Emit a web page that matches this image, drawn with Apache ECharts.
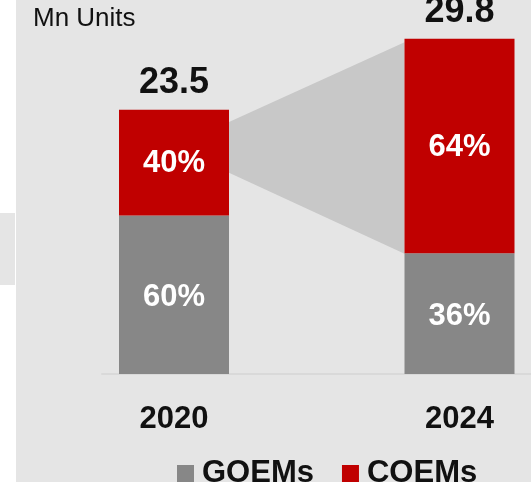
<!DOCTYPE html>
<html>
<head>
<meta charset="utf-8">
<script src="https://cdn.jsdelivr.net/npm/echarts@6/dist/echarts.min.js"></script>
<style>
  html, body { margin: 0; padding: 0; background: #ffffff; }
  #chart { width: 531px; height: 482px; }
</style>
</head>
<body>
<div id="chart"></div>
<script>
// data
const years = ["2020", "2024"];
const totals = [23.5, 29.8];          // Mn units
const goemShare = [60, 36];           // %
const coemShare = [40, 64];           // %
// gray "zoom" band between the two red segments, in Mn units [bottom, top]
const bridgeLeft = [17.9, 22.4];
const bridgeRight = [10.7, 29.5];

const BAR_W = 110;
const FONT = "Liberation Sans, Arial, sans-serif";

const goemData = totals.map((t, i) => +(t * goemShare[i] / 100).toFixed(3));
const coemData = totals.map((t, i) => +(t * coemShare[i] / 100).toFixed(3));

const chart = echarts.init(document.getElementById("chart"));

const option = {
  backgroundColor: "#ffffff",
  animation: false,
  textStyle: { fontFamily: FONT },
  graphic: [
    { type: "rect", z: -10, shape: { x: 16, y: 0, width: 515, height: 482 }, style: { fill: "#e5e5e5" } },
    { type: "rect", z: -10, shape: { x: 0, y: 213, width: 15, height: 72 }, style: { fill: "#e5e5e5" } },
    {
      type: "text", left: 33, top: 6,
      style: { text: "Mn Units", font: "26px " + FONT, fill: "#111111" }
    }
  ],
  legend: {
    top: 458,
    left: 177,
    padding: 0,
    itemWidth: 17,
    itemHeight: 17,
    itemGap: 28,
    icon: "rect",
    textStyle: { fontSize: 31, fontWeight: "bold", color: "#111111", padding: [0, 0, 0, 3] },
    data: ["GOEMs", "COEMs"]
  },
  // main grid: one category band per year (wider than the canvas on the right)
  // line grid: only carries the baseline, which starts left of the first bar
  grid: [
    { left: 31.25, right: -71.25, top: 36.5, bottom: 108, outerBoundsMode: "none" },
    { left: 102, right: 0, top: 36.5, bottom: 108, outerBoundsMode: "none" }
  ],
  xAxis: [
    {
      type: "category",
      gridIndex: 0,
      data: years,
      axisTick: { show: false },
      axisLine: { show: false },
      axisLabel: {
        margin: 30,
        fontSize: 31,
        fontWeight: "bold",
        color: "#111111"
      }
    },
    {
      type: "value",
      gridIndex: 1,
      min: 0,
      max: 1,
      splitLine: { show: false },
      axisTick: { show: false },
      axisLabel: { show: false },
      axisLine: { show: true, lineStyle: { color: "#d9d9d9", width: 2 } }
    }
  ],
  yAxis: [
    { type: "value", gridIndex: 0, min: 0, max: 30, show: false, splitLine: { show: false } },
    { type: "value", gridIndex: 1, min: 0, max: 30, show: false, splitLine: { show: false } }
  ],
  series: [
    {
      type: "custom",
      name: "bridge",
      silent: true,
      z: 1,
      data: [[0, 1]],
      renderItem: (params, api) => {
        const half = BAR_W / 2;
        const x0 = api.coord([0, 0])[0] + half;
        const x1 = api.coord([1, 0])[0] - half;
        const yl0 = api.coord([0, bridgeLeft[0]])[1];
        const yl1 = api.coord([0, bridgeLeft[1]])[1];
        const yr0 = api.coord([1, bridgeRight[0]])[1];
        const yr1 = api.coord([1, bridgeRight[1]])[1];
        return {
          type: "polygon",
          shape: { points: [[x0, yl1], [x1, yr1], [x1, yr0], [x0, yl0]] },
          style: { fill: "#c8c8c8" }
        };
      }
    },
    {
      name: "GOEMs",
      type: "bar",
      stack: "total",
      barWidth: BAR_W,
      z: 2,
      itemStyle: { color: "#878787" },
      label: {
        show: true,
        position: "inside",
        offset: [0, 3],
        fontSize: 31,
        fontWeight: "bold",
        color: "#ffffff",
        formatter: p => goemShare[p.dataIndex] + "%"
      },
      data: goemData
    },
    {
      name: "COEMs",
      type: "bar",
      stack: "total",
      barWidth: BAR_W,
      z: 2,
      itemStyle: { color: "#c00000" },
      label: {
        show: true,
        position: "inside",
        offset: [0, 1],
        fontSize: 31,
        fontWeight: "bold",
        color: "#ffffff",
        formatter: p => coemShare[p.dataIndex] + "%"
      },
      data: coemData
    },
    {
      name: "totals",
      type: "bar",
      stack: "total",
      barWidth: BAR_W,
      silent: true,
      itemStyle: { color: "transparent" },
      label: {
        show: true,
        position: "top",
        distance: 9,
        fontSize: 36,
        fontWeight: "bold",
        color: "#111111",
        formatter: p => totals[p.dataIndex].toFixed(1)
      },
      data: totals.map(() => 0)
    }
  ]
};

chart.setOption(option);
</script>
</body>
</html>
